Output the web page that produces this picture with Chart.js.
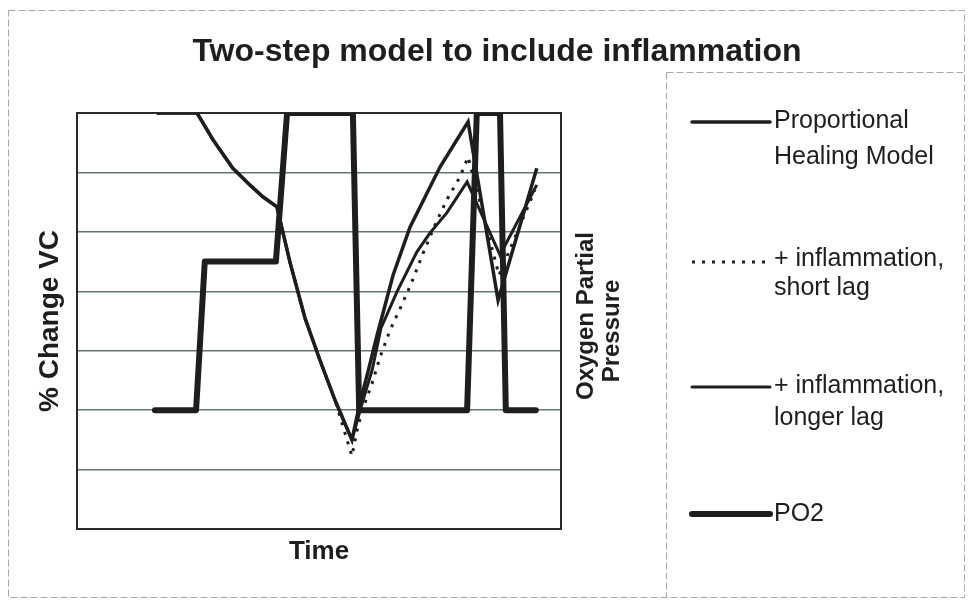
<!DOCTYPE html>
<html>
<head>
<meta charset="utf-8">
<title>Two-step model to include inflammation</title>
<script src="https://cdn.jsdelivr.net/npm/chart.js@4.4.1/dist/chart.umd.min.js"></script>
<style>
html, body { margin: 0; padding: 0; background: #ffffff; }
canvas { display: block; }
</style>
</head>
<body>
<canvas id="chart" width="969" height="601"></canvas>
<script>
const FONT = '"Liberation Sans", Arial, Helvetica, sans-serif';
const INK = '#1e1e1e';

// Time positions (arbitrary units, 0-100) and % change in VC for each model run
const propTime  = [16.5, 24.8, 28.1, 32.2, 35.7, 38.4, 41.3, 44.0, 47.1, 50.2, 53.3, 56.8, 58.5, 60.1, 62.0, 65.3, 68.8, 72.3, 75.0, 78.5, 80.8, 87.0, 95.0];
const propVC    = [7, 7, 6.55, 6.07, 5.79, 5.59, 5.42, 4.49, 3.55, 2.84, 2.17, 1.50, 2.14, 2.64, 3.26, 4.27, 5.08, 5.65, 6.09, 6.55, 6.85, 3.85, 6.07];

const shortTime = [16.5, 24.8, 28.1, 32.2, 35.7, 38.4, 41.3, 44.0, 47.1, 50.2, 53.3, 56.8, 58.1, 59.5, 61.0, 62.6, 64.7, 67.1, 69.2, 71.5, 74.0, 76.4, 79.1, 80.8, 87.2, 94.6];
const shortVC   = [7, 7, 6.55, 6.07, 5.79, 5.59, 5.42, 4.49, 3.55, 2.84, 2.17, 1.23, 1.75, 2.12, 2.46, 2.89, 3.35, 3.77, 4.16, 4.64, 5.12, 5.54, 5.92, 6.26, 4.27, 5.70];

const longTime  = [16.5, 24.8, 28.1, 32.2, 35.7, 38.4, 41.3, 44.0, 47.1, 50.2, 53.3, 56.8, 59.1, 61.0, 62.8, 66.1, 70.2, 72.9, 76.4, 80.6, 87.4, 95.0];
const longVC    = [7, 7, 6.55, 6.07, 5.79, 5.59, 5.42, 4.49, 3.55, 2.84, 2.17, 1.50, 2.17, 2.68, 3.38, 3.99, 4.66, 4.98, 5.32, 5.84, 4.61, 5.79];

// Oxygen partial pressure steps (secondary axis)
const po2Time   = [16.1, 24.6, 26.4, 41.1, 43.4, 57.0, 58.3, 80.6, 82.6, 87.4, 88.6, 94.8];
const po2Level  = [2, 2, 4.5, 4.5, 7, 7, 2, 2, 7, 7, 2, 2];

const legendText = [
  ['Proportional', 'Healing Model'],
  ['+ inflammation,', 'short lag'],
  ['+ inflammation,', 'longer lag'],
  ['PO2']
];

const pairs = (xs, ys) => xs.map((x, i) => ({ x: x, y: ys[i] }));

// Frame, legend panel and right-hand axis title
const decorations = {
  id: 'decorations',
  beforeDraw(chart) {
    const ctx = chart.ctx;
    ctx.save();
    ctx.strokeStyle = '#a8a8a8';
    ctx.lineWidth = 1;
    ctx.setLineDash([7, 3]);
    ctx.strokeRect(8.5, 10.5, 956, 587);
    ctx.beginPath();
    ctx.moveTo(666.5, 72.5); ctx.lineTo(964.5, 72.5);
    ctx.moveTo(666.5, 72.5); ctx.lineTo(666.5, 597.5);
    ctx.stroke();
    ctx.restore();
  },
  afterDraw(chart) {
    const ctx = chart.ctx;
    const area = chart.chartArea;
    const vertical = (text, x, y) => {
      ctx.save();
      ctx.fillStyle = INK;
      ctx.textAlign = 'center';
      ctx.textBaseline = 'middle';
      ctx.font = 'bold 24px ' + FONT;
      ctx.translate(x, y);
      ctx.rotate(-Math.PI / 2);
      ctx.fillText(text, 0, 0);
      ctx.restore();
    };
    vertical('Oxygen Partial', area.right + 25, 316);
    vertical('Pressure', area.right + 51, 331);

    // legend entries
    const lineY = [122, 262, 387, 514];
    const textY = [[121, 157], [259, 288], [386, 418], [514]];
    ctx.save();
    [0, 1, 2, 3].forEach((k, i) => {
      const ds = chart.data.datasets.find(d => d.legendIndex === k);
      ctx.beginPath();
      ctx.strokeStyle = ds.borderColor;
      ctx.lineWidth = ds.borderWidth;
      ctx.setLineDash(ds.borderDash || []);
      ctx.lineCap = ds.borderDash ? 'butt' : 'round';
      ctx.moveTo(692, lineY[i]);
      ctx.lineTo(770, lineY[i]);
      ctx.stroke();
      ctx.setLineDash([]);
      ctx.fillStyle = INK;
      ctx.font = '25px ' + FONT;
      ctx.textAlign = 'left';
      ctx.textBaseline = 'middle';
      legendText[k].forEach((t, j) => ctx.fillText(t, 774, textY[i][j]));
    });
    ctx.restore();
  }
};

const chart = new Chart(document.getElementById('chart'), {
  type: 'line',
  data: {
    datasets: [
      {
        label: 'Proportional Healing Model', legendIndex: 0,
        data: pairs(propTime, propVC), yAxisID: 'y',
        borderColor: INK, borderWidth: 3.5, pointRadius: 0, tension: 0
      },
      {
        label: '+ inflammation, short lag', legendIndex: 1,
        data: pairs(shortTime, shortVC), yAxisID: 'y',
        borderColor: INK, borderWidth: 3, borderDash: [3, 7], pointRadius: 0, tension: 0
      },
      {
        label: '+ inflammation, longer lag', legendIndex: 2,
        data: pairs(longTime, longVC), yAxisID: 'y',
        borderColor: INK, borderWidth: 3, pointRadius: 0, tension: 0
      },
      {
        label: 'PO2', legendIndex: 3,
        data: pairs(po2Time, po2Level), yAxisID: 'y2',
        borderColor: INK, borderWidth: 6, pointRadius: 0, tension: 0,
        borderJoinStyle: 'round', borderCapStyle: 'round'
      }
    ]
  },
  options: {
    responsive: false,
    animation: false,
    layout: { padding: { left: 25, right: 0, top: 0, bottom: 0 } },
    plugins: {
      legend: { display: false },
      tooltip: { enabled: false },
      title: {
        display: true,
        text: 'Two-step model to include inflammation',
        color: INK,
        font: { family: FONT, size: 32, weight: 'bold' },
        padding: { top: 33, bottom: 41.6 }
      }
    },
    scales: {
      x: {
        type: 'linear', min: 0, max: 100,
        ticks: { display: false },
        grid: { display: false },
        border: { display: true, color: '#2a2a2a', width: 2 },
        title: { display: true, text: 'Time', color: INK, font: { family: FONT, size: 26, weight: 'bold' }, padding: { top: 0, bottom: 34 } },
        afterFit: s => { s.height = 72; }
      },
      y: {
        position: 'left', min: 0, max: 7,
        ticks: { display: false, stepSize: 1 },
        grid: {
          drawTicks: false,
          color: c => (c.tick.value === 0 || c.tick.value === 7) ? '#2a2a2a' : '#667474',
          lineWidth: c => (c.tick.value === 0 || c.tick.value === 7) ? 2 : 1.5
        },
        border: { display: true, color: '#2a2a2a', width: 2 },
        title: { display: true, text: '% Change VC', color: INK, font: { family: FONT, size: 28, weight: 'bold' }, padding: { top: 8, bottom: 0 } },
        afterFit: s => { s.width = 52; }
      },
      y2: {
        position: 'right', min: 0, max: 7,
        ticks: { display: false },
        grid: { display: false, drawTicks: false },
        border: { display: true, color: '#2a2a2a', width: 2 },
        afterFit: s => { s.width = 408; }
      }
    }
  },
  plugins: [decorations]
});
</script>
</body>
</html>
